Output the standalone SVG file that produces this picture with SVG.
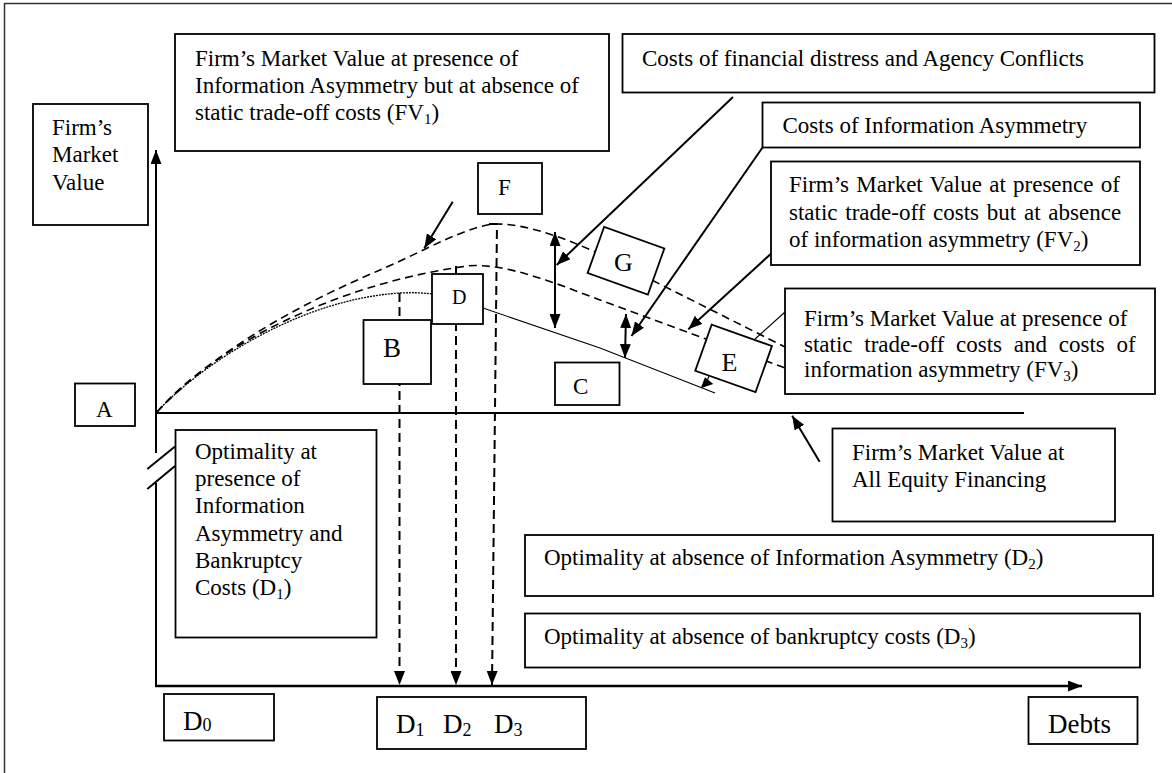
<svg xmlns="http://www.w3.org/2000/svg" width="1172" height="773" viewBox="0 0 1172 773">
<style>
.t{font-family:"Liberation Serif","Times New Roman",serif;font-size:23px;fill:#000}
.box{fill:#fff;stroke:#000;stroke-width:1.8}
.ln{fill:none;stroke:#000;stroke-width:2}
.ax{fill:none;stroke:#000;stroke-width:2.4}
.dash{fill:none;stroke:#000;stroke-width:1.6;stroke-dasharray:8 5}
.vd{fill:none;stroke:#000;stroke-width:2;stroke-dasharray:9 5}
.thin{fill:none;stroke:#000;stroke-width:1.1}
.dot{fill:none;stroke:#000;stroke-width:1.3;stroke-dasharray:2 1}
.sub{font-size:15px}
.big{font-size:27px}
</style>
<defs>
<marker id="ah" markerUnits="userSpaceOnUse" markerWidth="14" markerHeight="11" refX="14" refY="5.5" orient="auto-start-reverse"><path d="M0,0 L14,5.5 L0,11 z" fill="#000" stroke="none"/></marker>
</defs>
<rect x="0" y="0" width="1172" height="773" fill="#fff"/>
<path d="M4.5,773 V3.5 H1172" fill="none" stroke="#333" stroke-width="1.5"/>

<g id="connectors">
  <!-- curves -->
  <path class="dash" d="M157,412 C220,345 310,300 380,270 C420,253 470,224 497,224 C525,224 560,236 600,254 L785,347"/>
  <path class="dash" d="M157,412 C210,350 330,285 467,266 C505,262 560,285 600,300 L785,368"/>
  <path class="dot" d="M157,412 C190,375 290,300 400,293 C440,291 460,300 483,308"/>
  <path class="thin" d="M483,308 L600,348 L715,393"/>
  <!-- dashed verticals -->
  <path class="vd" d="M399.5,293 V685" marker-end="url(#ah)"/>
  <path class="vd" d="M456,266 V685" marker-end="url(#ah)"/>
  <path class="vd" d="M489,224 H497 L492,685" marker-end="url(#ah)"/>
  <!-- axes -->
  <path class="ln" d="M156,453 V150" marker-end="url(#ah)"/>
  <path class="ln" d="M156,483 V686"/>
  <path class="ax" d="M155,686 H1082" marker-end="url(#ah)"/>
  <path class="ln" d="M147.3,469 L175,446.5 M147.3,489 L175,466"/>
  <path class="ln" d="M156,413 H1024"/>
  <!-- pointers -->
  <path class="ln" d="M452.7,201.7 L424.3,248.3" marker-end="url(#ah)"/>
  <path class="ln" d="M733,97 L556.7,265" marker-end="url(#ah)"/>
  <path class="ln" d="M762.7,147.3 L631.5,336" marker-end="url(#ah)"/>
  <path class="ln" d="M770.7,254 L688.3,329.3" marker-end="url(#ah)"/>
  <path class="ln" d="M819.6,461.7 L792.2,415.7" marker-end="url(#ah)"/>
  <path class="ln" d="M555,232 L555,328" marker-start="url(#ah)" marker-end="url(#ah)"/>
  <path class="ln" d="M626,314 L625,358" marker-start="url(#ah)" marker-end="url(#ah)"/>
  <path class="thin" d="M785,312 L755,339"/>
  <path d="M700.7,388.3 L705,377.3 L713.3,384 z" fill="#000"/>
  <path class="thin" d="M709,376 L707,381"/>
</g>

<g id="node-fv1"><rect class="box" x="175" y="34" width="434" height="117"/>
<text class="t" x="195" y="66">Firm’s Market Value at presence of</text>
<text class="t" x="195" y="93">Information Asymmetry but at absence of</text>
<text class="t" x="195" y="120">static trade-off costs (FV<tspan class="sub" dy="4">1</tspan><tspan dy="-4">)</tspan></text></g>

<g id="node-costs-fd"><rect class="box" x="622.5" y="34" width="532" height="58.5"/>
<text class="t" x="642" y="66">Costs of financial distress and Agency Conflicts</text></g>

<g id="node-costs-ia"><rect class="box" x="762.5" y="102.5" width="377.5" height="45"/>
<text class="t" x="782.5" y="133">Costs of Information Asymmetry</text></g>

<g id="node-fv2"><rect class="box" x="771" y="161.5" width="369" height="103.5"/>
<text class="t" x="789" y="192" word-spacing="1.5">Firm’s Market Value at presence of</text>
<text class="t" x="789" y="220" word-spacing="2">static trade-off costs but at absence</text>
<text class="t" x="789" y="247">of information asymmetry (FV<tspan class="sub" dy="4">2</tspan><tspan dy="-4">)</tspan></text></g>

<g id="node-fv3"><rect class="box" x="785" y="288.5" width="370" height="105.5"/>
<text class="t" x="804" y="326">Firm’s Market Value at presence of</text>
<text class="t" x="804" y="352" word-spacing="6">static trade-off costs and costs of</text>
<text class="t" x="804" y="377">information asymmetry (FV<tspan class="sub" dy="4">3</tspan><tspan dy="-4">)</tspan></text></g>

<g id="node-equity"><rect class="box" x="832.5" y="428.5" width="282.5" height="93"/>
<text class="t" x="852" y="460">Firm’s Market Value at</text>
<text class="t" x="852" y="487">All Equity Financing</text></g>

<g id="node-yaxis-label"><rect class="box" x="33" y="104" width="115" height="121"/>
<text class="t" x="52" y="135">Firm’s</text>
<text class="t" x="52" y="162">Market</text>
<text class="t" x="52" y="190">Value</text></g>

<g id="node-F"><rect class="box" x="478" y="163" width="64" height="51"/>
<text class="t" x="498" y="195" font-size="22">F</text></g>

<g id="node-D"><rect class="box" x="432" y="274" width="51" height="50"/>
<text class="t" x="452" y="304" style="font-size:20px">D</text></g>

<g id="node-B"><rect class="box" x="363.5" y="320" width="67.5" height="64"/>
<text class="t" x="383" y="357" style="font-size:27px">B</text></g>

<g id="node-C"><rect class="box" x="555" y="362.5" width="64.5" height="42.5"/>
<text class="t" x="573" y="394">C</text></g>

<g id="node-A"><rect class="box" x="75" y="383.5" width="60" height="42.5"/>
<text class="t" x="96" y="417">A</text></g>

<g id="node-G"><rect class="box" x="-32" y="-24.5" width="64" height="49" transform="translate(626,260.7) rotate(19.7)"/>
<text class="t" x="614" y="271" style="font-size:26px">G</text></g>

<g id="node-E"><rect class="box" x="-32" y="-24.5" width="64" height="49" transform="translate(733.6,358.4) rotate(19.6)"/>
<text class="t" x="721.5" y="371" style="font-size:26px">E</text></g>

<g id="node-opt-d1"><rect class="box" x="175.5" y="430" width="201" height="207.5"/>
<text class="t" x="195" y="459">Optimality at</text>
<text class="t" x="195" y="486">presence of</text>
<text class="t" x="195" y="513">Information</text>
<text class="t" x="195" y="541">Asymmetry and</text>
<text class="t" x="195" y="568">Bankruptcy</text>
<text class="t" x="195" y="595">Costs (D<tspan class="sub" dy="4">1</tspan><tspan dy="-4">)</tspan></text></g>

<g id="node-opt-d2"><rect class="box" x="525" y="535" width="628" height="61"/>
<text class="t" x="544" y="565">Optimality at absence of Information Asymmetry (D<tspan class="sub" dy="4">2</tspan><tspan dy="-4">)</tspan></text></g>

<g id="node-opt-d3"><rect class="box" x="525" y="613.5" width="615" height="54"/>
<text class="t" x="544" y="644">Optimality at absence of bankruptcy costs (D<tspan class="sub" dy="4">3</tspan><tspan dy="-4">)</tspan></text></g>

<g id="node-D0"><rect class="box" x="164" y="694" width="110" height="46.5"/>
<text class="t big" x="183" y="730">D<tspan style="font-size:18px" dy="1">0</tspan></text></g>

<g id="node-D123"><rect class="box" x="377" y="697" width="209" height="52"/>
<text class="t big" x="396" y="733">D<tspan style="font-size:18px" dy="3">1</tspan></text>
<text class="t big" x="443" y="733">D<tspan style="font-size:18px" dy="3">2</tspan></text>
<text class="t big" x="494" y="733">D<tspan style="font-size:18px" dy="3">3</tspan></text></g>

<g id="node-debts"><rect class="box" x="1028.5" y="697" width="109" height="47"/>
<text class="t big" x="1048" y="733">Debts</text></g>
</svg>
